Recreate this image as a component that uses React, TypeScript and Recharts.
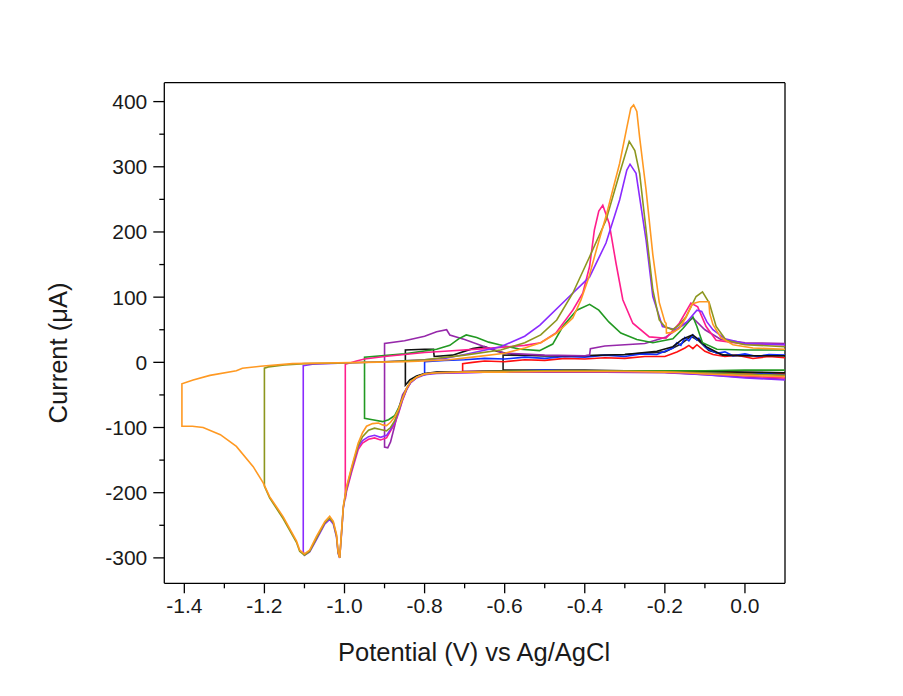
import React from 'react';
import { LineChart, Line, XAxis, YAxis, ReferenceLine } from 'recharts';

type Pt = [number, number];

const FONT = '"Liberation Sans", Arial, Helvetica, sans-serif';

const xDomain: [number, number] = [-1.45, 0.1];
const yDomain: [number, number] = [-339, 429];
const xTicks = [-1.4, -1.3, -1.2, -1.1, -1.0, -0.9, -0.8, -0.7, -0.6, -0.5, -0.4, -0.3, -0.2, -0.1, 0.0];
const yTicks = [-300, -250, -200, -150, -100, -50, 0, 50, 100, 150, 200, 250, 300, 350, 400];

// potential (V) , current (uA) — each loop starts at +0.1 V on the cathodic sweep
const orangeLoop: Pt[] = [
  [0.1, -22], [0.05, -21], [0, -20], [-0.05, -19], [-0.1, -18], [-0.15, -16], [-0.2, -15], [-0.3, -14],
  [-0.4, -14], [-0.5, -14], [-0.6, -15], [-0.7, -15], [-0.77, -16], [-0.8, -18], [-0.82, -23], [-0.835, -30],
  [-0.845, -40], [-0.855, -55], [-0.865, -72], [-0.875, -84], [-0.885, -92], [-0.895, -97], [-0.905, -96],
  [-0.915, -93], [-0.93, -94], [-0.945, -98], [-0.955, -108], [-0.966, -124], [-0.982, -160], [-0.995, -191],
  [-1.003, -221], [-1.008, -265], [-1.012, -300], [-1.016, -290], [-1.02, -264], [-1.028, -244], [-1.037, -236],
  [-1.049, -244], [-1.07, -267], [-1.087, -288], [-1.1, -294], [-1.112, -288], [-1.12, -274], [-1.153, -237],
  [-1.187, -206], [-1.203, -185], [-1.228, -160], [-1.27, -129], [-1.31, -111], [-1.353, -100], [-1.38, -98],
  [-1.406, -98], [-1.406, -33], [-1.378, -27], [-1.336, -20], [-1.27, -13], [-1.255, -9], [-1.21, -6],
  [-1.13, -2], [-1.05, -1], [-0.95, 0], [-0.85, 1], [-0.8, 2], [-0.74, 4], [-0.68, 8], [-0.6, 14], [-0.55, 22],
  [-0.51, 30], [-0.47, 45], [-0.43, 68], [-0.41, 95], [-0.39, 130], [-0.37, 175], [-0.347, 224], [-0.33, 265],
  [-0.313, 305], [-0.295, 360], [-0.285, 390], [-0.278, 395], [-0.27, 385], [-0.263, 345], [-0.255, 305],
  [-0.247, 265], [-0.23, 165], [-0.214, 92], [-0.2, 62], [-0.197, 60], [-0.196, 45], [-0.18, 46], [-0.164, 52],
  [-0.148, 68], [-0.131, 90], [-0.114, 93], [-0.09, 93], [-0.088, 75], [-0.08, 58], [-0.06, 38], [-0.03, 27],
  [0.02, 22], [0.1, 20],
];

const oliveLoop: Pt[] = [
  [0.1, -20], [0, -18], [-0.1, -16], [-0.2, -14], [-0.35, -13], [-0.5, -13], [-0.65, -14], [-0.77, -16],
  [-0.8, -18], [-0.82, -23], [-0.835, -30], [-0.845, -40], [-0.855, -55], [-0.865, -74], [-0.875, -90],
  [-0.885, -100], [-0.895, -105], [-0.91, -103], [-0.925, -101], [-0.94, -104], [-0.955, -114], [-0.966, -128],
  [-0.982, -162], [-0.995, -193], [-1.003, -222], [-1.008, -266], [-1.012, -300], [-1.016, -292], [-1.02, -266],
  [-1.028, -246], [-1.037, -239], [-1.049, -246], [-1.07, -270], [-1.087, -290], [-1.1, -296], [-1.112, -290],
  [-1.12, -276], [-1.153, -240], [-1.187, -208], [-1.2, -190], [-1.2, -9], [-1.19, -7], [-1.15, -4], [-1.1, -2],
  [-1.0, -1], [-0.9, 1], [-0.8, 4], [-0.7, 11], [-0.61, 19], [-0.55, 30], [-0.51, 42], [-0.47, 65], [-0.43, 106],
  [-0.388, 162], [-0.347, 218], [-0.313, 290], [-0.289, 339], [-0.275, 325], [-0.263, 290], [-0.247, 203],
  [-0.23, 111], [-0.214, 65], [-0.2, 55], [-0.181, 50], [-0.165, 57], [-0.147, 70], [-0.122, 101], [-0.106, 108],
  [-0.089, 91], [-0.072, 55], [-0.047, 34], [0, 27], [0.1, 24],
];

const violetLoop: Pt[] = [
  [0.1, -27], [0, -24], [-0.1, -19], [-0.2, -15], [-0.35, -14], [-0.5, -14], [-0.65, -15], [-0.77, -17],
  [-0.8, -19], [-0.82, -24], [-0.835, -31], [-0.845, -42], [-0.855, -57], [-0.865, -76], [-0.875, -93],
  [-0.885, -103], [-0.895, -112], [-0.91, -115], [-0.925, -112], [-0.94, -114], [-0.955, -120], [-0.966, -130],
  [-0.982, -165], [-0.995, -195], [-1.003, -224], [-1.008, -268], [-1.012, -300], [-1.016, -293], [-1.02, -268],
  [-1.028, -248], [-1.037, -241], [-1.049, -248], [-1.07, -272], [-1.087, -291], [-1.1, -296], [-1.103, -290],
  [-1.103, -5], [-1.08, -3], [-1.0, -1], [-0.9, 1], [-0.8, 4], [-0.75, 6], [-0.7, 12], [-0.61, 24], [-0.55, 40],
  [-0.512, 57], [-0.447, 96], [-0.388, 131], [-0.347, 183], [-0.313, 249], [-0.295, 295], [-0.287, 304],
  [-0.272, 290], [-0.247, 188], [-0.23, 101], [-0.206, 55], [-0.172, 50], [-0.145, 62], [-0.12, 80],
  [-0.108, 78], [-0.095, 62], [-0.08, 50], [-0.05, 36], [0, 29], [0.1, 27],
];

const magentaLoop: Pt[] = [
  [0.1, -24], [0, -21], [-0.1, -18], [-0.2, -15], [-0.35, -14], [-0.5, -14], [-0.65, -15], [-0.77, -16],
  [-0.8, -18], [-0.82, -23], [-0.835, -31], [-0.845, -42], [-0.855, -58], [-0.865, -78], [-0.875, -95],
  [-0.885, -105], [-0.895, -116], [-0.91, -119], [-0.925, -116], [-0.94, -118], [-0.955, -124], [-0.966, -134],
  [-0.982, -168], [-0.995, -198], [-0.998, -210], [-0.998, -3], [-0.97, 2], [-0.95, 5], [-0.9, 9], [-0.8, 15],
  [-0.75, 17], [-0.65, 21], [-0.55, 26], [-0.51, 30], [-0.472, 45], [-0.43, 80], [-0.405, 106], [-0.388, 147],
  [-0.376, 203], [-0.365, 232], [-0.355, 241], [-0.339, 213], [-0.322, 152], [-0.305, 96], [-0.28, 60],
  [-0.239, 39], [-0.197, 37], [-0.164, 60], [-0.135, 91], [-0.118, 85], [-0.097, 55], [-0.072, 34], [0, 28],
  [0.1, 27],
];

const greenLoop: Pt[] = [
  [0.1, -12], [0, -12], [-0.1, -13], [-0.2, -13], [-0.35, -13], [-0.5, -13], [-0.65, -14], [-0.77, -16],
  [-0.8, -18], [-0.82, -23], [-0.835, -30], [-0.845, -41], [-0.855, -55], [-0.865, -70], [-0.875, -82],
  [-0.89, -88], [-0.905, -91], [-0.93, -88], [-0.95, -86], [-0.95, 8], [-0.85, 13], [-0.77, 20], [-0.737, 26],
  [-0.715, 36], [-0.696, 42], [-0.67, 38], [-0.64, 31], [-0.613, 27], [-0.56, 20], [-0.513, 18], [-0.48, 28],
  [-0.455, 55], [-0.42, 80], [-0.388, 89], [-0.365, 80], [-0.34, 62], [-0.31, 45], [-0.27, 35], [-0.23, 30],
  [-0.18, 36], [-0.155, 52], [-0.13, 70], [-0.12, 55], [-0.106, 30], [-0.07, 20], [0, 19], [0.1, 19],
];

const purpleLoop: Pt[] = [
  [0.1, -26], [0, -23], [-0.1, -19], [-0.2, -16], [-0.35, -15], [-0.5, -15], [-0.65, -15], [-0.77, -16],
  [-0.8, -18], [-0.82, -23], [-0.835, -31], [-0.845, -40], [-0.855, -50], [-0.865, -72], [-0.875, -98],
  [-0.885, -122], [-0.892, -131], [-0.9, -130], [-0.9, 29], [-0.85, 33], [-0.8, 40], [-0.77, 47],
  [-0.745, 50], [-0.737, 42], [-0.7, 35], [-0.65, 24], [-0.6, 14], [-0.5, 11], [-0.4, 10], [-0.388, 11],
  [-0.386, 21], [-0.35, 25], [-0.25, 29], [-0.197, 39], [-0.16, 55], [-0.13, 68], [-0.1, 50], [-0.06, 35],
  [0, 30], [0.1, 29],
];

const blackLoop: Pt[] = [
  [0.1, -16], [0, -15], [-0.1, -14], [-0.2, -13], [-0.35, -13], [-0.5, -13], [-0.65, -14], [-0.77, -15],
  [-0.8, -17], [-0.82, -21], [-0.837, -27], [-0.848, -35], [-0.848, 19], [-0.8, 20], [-0.778, 20],
  [-0.776, 9], [-0.73, 11], [-0.68, 21], [-0.65, 24], [-0.62, 17], [-0.58, 12], [-0.5, 10], [-0.4, 10],
  [-0.3, 12], [-0.22, 17], [-0.18, 24], [-0.155, 36], [-0.131, 42], [-0.115, 35], [-0.097, 24], [-0.056, 11],
  [0, 10], [0.1, 10],
];

const blueLoop: Pt[] = [
  [0.1, -20], [0.05, -17], [0, -19], [-0.1, -15], [-0.2, -14], [-0.3, -13], [-0.4, -14], [-0.5, -12],
  [-0.6, -14], [-0.7, -14], [-0.78, -16], [-0.8, -19], [-0.8, 1], [-0.75, 3], [-0.7, 4], [-0.65, 6], [-0.6, 5],
  [-0.55, 8], [-0.5, 6], [-0.45, 9], [-0.4, 8], [-0.35, 11], [-0.3, 9], [-0.26, 13], [-0.22, 12], [-0.2, 17],
  [-0.18, 22], [-0.17, 30], [-0.16, 26], [-0.15, 38], [-0.14, 33], [-0.13, 42], [-0.12, 34], [-0.115, 37],
  [-0.1, 24], [-0.09, 20], [-0.07, 14], [-0.05, 16], [-0.03, 10], [0, 13], [0.03, 9], [0.06, 12], [0.1, 11],
];

const redLoop: Pt[] = [
  [0.1, -18], [0, -17], [-0.1, -15], [-0.2, -14], [-0.3, -13], [-0.4, -13], [-0.5, -13], [-0.6, -13],
  [-0.705, -14], [-0.705, -2], [-0.68, 0], [-0.65, 2], [-0.6, 1], [-0.55, 4], [-0.5, 3], [-0.45, 6],
  [-0.4, 5], [-0.35, 7], [-0.3, 6], [-0.25, 9], [-0.2, 9], [-0.17, 16], [-0.15, 22], [-0.14, 26],
  [-0.13, 21], [-0.12, 27], [-0.1, 17], [-0.08, 12], [-0.05, 9], [-0.02, 11], [0.02, 6], [0.06, 9], [0.1, 7],
];

const blackShortLoop: Pt[] = [
  [0.1, -17], [0, -16], [-0.1, -14], [-0.2, -13], [-0.3, -13], [-0.4, -12], [-0.5, -12], [-0.604, -12],
  [-0.604, 11], [-0.5, 10], [-0.4, 10], [-0.3, 12], [-0.2, 16], [-0.16, 28], [-0.135, 40], [-0.115, 33],
  [-0.09, 18], [-0.05, 11], [0, 10], [0.1, 10],
];

const curves = [
  { key: 'blackShort', color: '#222222', pts: blackShortLoop },
  { key: 'red', color: '#ff1010', pts: redLoop },
  { key: 'blue', color: '#1030ff', pts: blueLoop },
  { key: 'black', color: '#111111', pts: blackLoop },
  { key: 'purple', color: '#9628aa', pts: purpleLoop },
  { key: 'green', color: '#229922', pts: greenLoop },
  { key: 'magenta', color: '#ff1e8c', pts: magentaLoop },
  { key: 'violet', color: '#8a2bff', pts: violetLoop },
  { key: 'olive', color: '#8c961e', pts: oliveLoop },
  { key: 'orange', color: '#ff9922', pts: orangeLoop },
];

const toRows = (pts: Pt[]) => pts.map(([v, i]) => ({ v, i }));

const XTick = (props: any) => {
  const { x, y, payload } = props;
  const val = payload.value;
  const major = Math.round(val * 10) % 2 === 0;
  return (
    <g>
      <line x1={x} x2={x} y1={y} y2={y + (major ? 10 : 5)} stroke="#000" strokeWidth={1.3} />
      {major && (
        <text x={x} y={y + 30} textAnchor="middle" fontSize={21} fill="#1a1a1a" fontFamily={FONT}>
          {val.toFixed(1)}
        </text>
      )}
    </g>
  );
};

const YTick = (props: any) => {
  const { x, y, payload } = props;
  const val = payload.value;
  const major = val % 100 === 0;
  return (
    <g>
      <line x1={x} x2={x - (major ? 11 : 5)} y1={y} y2={y} stroke="#000" strokeWidth={1.3} />
      {major && (
        <text x={x - 17} y={y + 7.5} textAnchor="end" fontSize={21} fill="#1a1a1a" fontFamily={FONT}>
          {val}
        </text>
      )}
    </g>
  );
};

const axisStyle = { stroke: '#000', strokeWidth: 1.3 };

export default function App() {
  return (
    <div style={{ position: 'relative', width: 887, height: 680, fontFamily: FONT }}>
      <LineChart width={887} height={680} margin={{ top: 74.7, right: 110, bottom: 64.7, left: 96.3 }}>
        <XAxis
          type="number"
          dataKey="v"
          domain={xDomain}
          ticks={xTicks}
          interval={0}
          tick={XTick}
          tickLine={false}
          tickSize={0}
          tickMargin={0}
          height={40}
          allowDataOverflow
          axisLine={axisStyle}
        />
        <YAxis
          type="number"
          domain={yDomain}
          ticks={yTicks}
          interval={0}
          tick={YTick}
          tickLine={false}
          tickSize={0}
          tickMargin={0}
          width={60}
          allowDataOverflow
          axisLine={axisStyle}
        />
        {/* closing frame on top and right */}
        <ReferenceLine y={yDomain[1]} stroke="#000" strokeWidth={1.3} ifOverflow="visible" />
        <ReferenceLine x={xDomain[1]} stroke="#000" strokeWidth={1.3} ifOverflow="visible" />
        {curves.map((c) => (
          <Line
            key={c.key}
            data={toRows(c.pts)}
            dataKey="i"
            type="linear"
            stroke={c.color}
            strokeWidth={1.6}
            dot={false}
            activeDot={false}
            isAnimationActive={false}
          />
        ))}
      </LineChart>
      <div
        style={{
          position: 'absolute',
          left: 50,
          top: 345,
          transform: 'translate(-50%, -50%) rotate(-90deg)',
          fontSize: 25.5,
          whiteSpace: 'nowrap',
          color: '#1a1a1a',
        }}
      >
        Current (μA)
      </div>
      <div
        style={{
          position: 'absolute',
          left: 466,
          top: 644,
          transform: 'translate(-50%, -50%)',
          fontSize: 25.5,
          whiteSpace: 'nowrap',
          color: '#1a1a1a',
        }}
      >
        Potential (V) vs Ag/AgCl
      </div>
    </div>
  );
}
